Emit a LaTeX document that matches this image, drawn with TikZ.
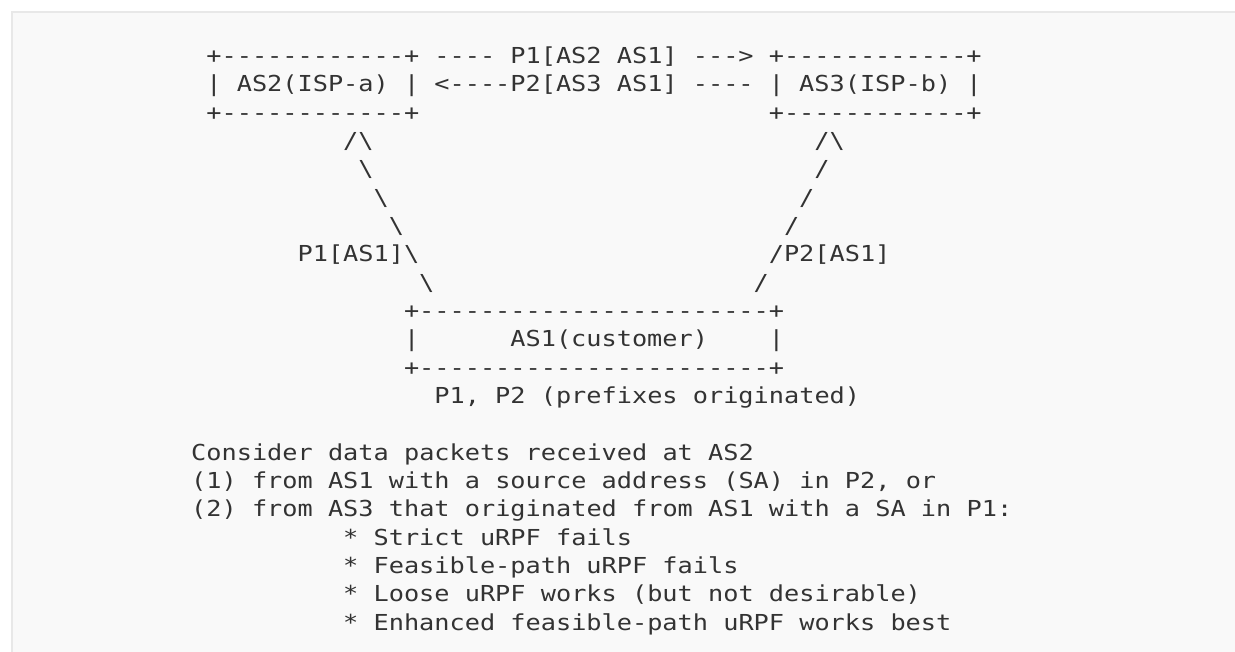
\documentclass[tikz,border=0pt]{standalone}
\usepackage{fontspec}
\setmonofont{DejaVu Sans Mono}[FakeStretch=1.148]
\definecolor{ink}{HTML}{333333}
\definecolor{panel}{HTML}{F9F9F9}
\definecolor{edgegray}{HTML}{E8E8E8}
\newcommand\asc[4]{\node[txt] (#1) at ({191.2+(#2)*15.2},{63.5+((#3)-1)*28.33}) {#4};}
\newcommand\bs{\textbackslash}
\begin{document}
\begin{tikzpicture}[x=1pt,y=-1pt,
  txt/.style={anchor=base west, inner sep=0pt, outer sep=0pt, text=ink,
    font=\ttfamily\fontsize{22}{28}\selectfont}]
\useasboundingbox (0,0) rectangle (1235,651);
\fill[white] (0,0) rectangle (1235,651);
\fill[panel] (11,11) rectangle (1245,660);
\draw[edgegray, line width=1.6pt] (11.8,660) -- (11.8,11.8) -- (1245,11.8);
% AS2 and AS3 boxes with the advertisements between them
\asc{as2top}{1}{1}{+------------+}
\asc{pone}{16}{1}{---- P1[AS2 AS1] --->}
\asc{as3top}{38}{1}{+------------+}
\asc{as2mid}{1}{2}{| AS2(ISP-a) |}
\asc{ptwo}{16}{2}{<----P2[AS3 AS1] ----}
\asc{as3mid}{38}{2}{| AS3(ISP-b) |}
\asc{as2bot}{1}{3}{+------------+}
\asc{as3bot}{38}{3}{+------------+}
% left link
\asc{la}{10}{4}{/\bs}
\asc{lb}{11}{5}{\bs}
\asc{lc}{12}{6}{\bs}
\asc{ld}{13}{7}{\bs}
\asc{le}{7}{8}{P1[AS1]\bs}
\asc{lf}{15}{9}{\bs}
% right link
\asc{ra}{41}{4}{/\bs}
\asc{rb}{41}{5}{/}
\asc{rc}{40}{6}{/}
\asc{rd}{39}{7}{/}
\asc{re}{38}{8}{/P2[AS1]}
\asc{rf}{37}{9}{/}
% AS1 box
\asc{as1top}{14}{10}{+-----------------------+}
\asc{as1l}{14}{11}{|}
\asc{as1name}{21}{11}{AS1(customer)}
\asc{as1r}{38}{11}{|}
\asc{as1bot}{14}{12}{+-----------------------+}
\asc{pfx}{16}{13}{P1, P2 (prefixes originated)}
% explanation
\asc{t1}{0}{15}{Consider data packets received at AS2}
\asc{t2}{0}{16}{(1) from AS1 with a source address (SA) in P2, or}
\asc{t3}{0}{17}{(2) from AS3 that originated from AS1 with a SA in P1:}
\asc{t4}{10}{18}{* Strict uRPF fails}
\asc{t5}{10}{19}{* Feasible-path uRPF fails}
\asc{t6}{10}{20}{* Loose uRPF works (but not desirable)}
\asc{t7}{10}{21}{* Enhanced feasible-path uRPF works best}
\end{tikzpicture}
\end{document}
